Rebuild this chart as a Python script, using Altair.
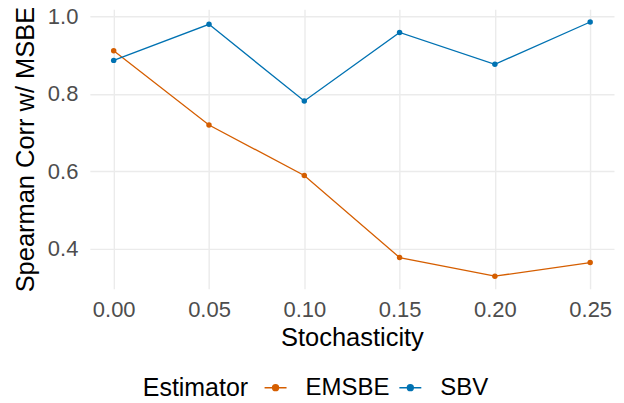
import altair as alt
import pandas as pd

stochasticity = [0.00, 0.05, 0.10, 0.15, 0.20, 0.25]
emsbe = [0.911, 0.719, 0.589, 0.377, 0.329, 0.364]
sbv = [0.886, 0.979, 0.781, 0.958, 0.876, 0.985]
estimators = ["EMSBE", "SBV"]
colors = ["#D55E00", "#0072B2"]
x_ticks = [0.00, 0.05, 0.10, 0.15, 0.20, 0.25]
y_ticks = [0.4, 0.6, 0.8, 1.0]

df = pd.DataFrame({
    "Stochasticity": stochasticity + stochasticity,
    "value": emsbe + sbv,
    "Estimator": ["EMSBE"] * len(emsbe) + ["SBV"] * len(sbv),
})

FONT = "Liberation Sans"
sym = "M-1,0H1M-0.27,0A0.27,0.27 0 1,1 0.27,0A0.27,0.27 0 1,1 -0.27,0Z"

color = alt.Color(
    "Estimator:N",
    scale=alt.Scale(domain=estimators, range=colors),
    legend=alt.Legend(
        orient="none", direction="horizontal", legendX=53, legendY=367,
        titleOrient="left", titleFontSize=25, titleFont=FONT, titleFontWeight="normal",
        titleColor="black", titlePadding=15, titleBaseline="middle",
        labelFontSize=24, labelFont=FONT, labelColor="black", labelOffset=18,
        columnPadding=6, symbolType=sym, symbolSize=484, symbolStrokeWidth=1.4,
        padding=0,
    ),
)
x = alt.X(
    "Stochasticity:Q",
    scale=alt.Scale(domain=[-0.0125, 0.2625], nice=False, zero=False),
    axis=alt.Axis(values=x_ticks, format=".2f", title="Stochasticity",
                  labelPadding=11, titlePadding=5),
)
y = alt.Y(
    "value:Q",
    scale=alt.Scale(domain=[0.2962, 1.0178], nice=False, zero=False),
    axis=alt.Axis(values=y_ticks, format=".1f", title="Spearman Corr w/ MSBE",
                  labelPadding=12, titlePadding=9),
)

base = alt.Chart(df).encode(x=x, y=y, color=color)
line = base.mark_line(strokeWidth=1.3)
pts = base.mark_point(filled=True, size=30, opacity=1)

chart = (
    (line + pts)
    .properties(
        width=525, height=280,
        padding={"left": 82, "top": 1, "right": 2, "bottom": 108},
        autosize=alt.AutoSizeParams(type="none"),
    )
    .configure_view(stroke=None)
    .configure_axis(
        domain=False, ticks=False, grid=True, gridColor="#EBEBEB", gridWidth=1.4,
        labelFont=FONT, labelFontSize=22, labelColor="#4D4D4D",
        titleFont=FONT, titleFontSize=25.5, titleFontWeight="normal", titleColor="black",
    )
)

chart.save("out.html", embed_options={"renderer": "svg", "actions": False})
